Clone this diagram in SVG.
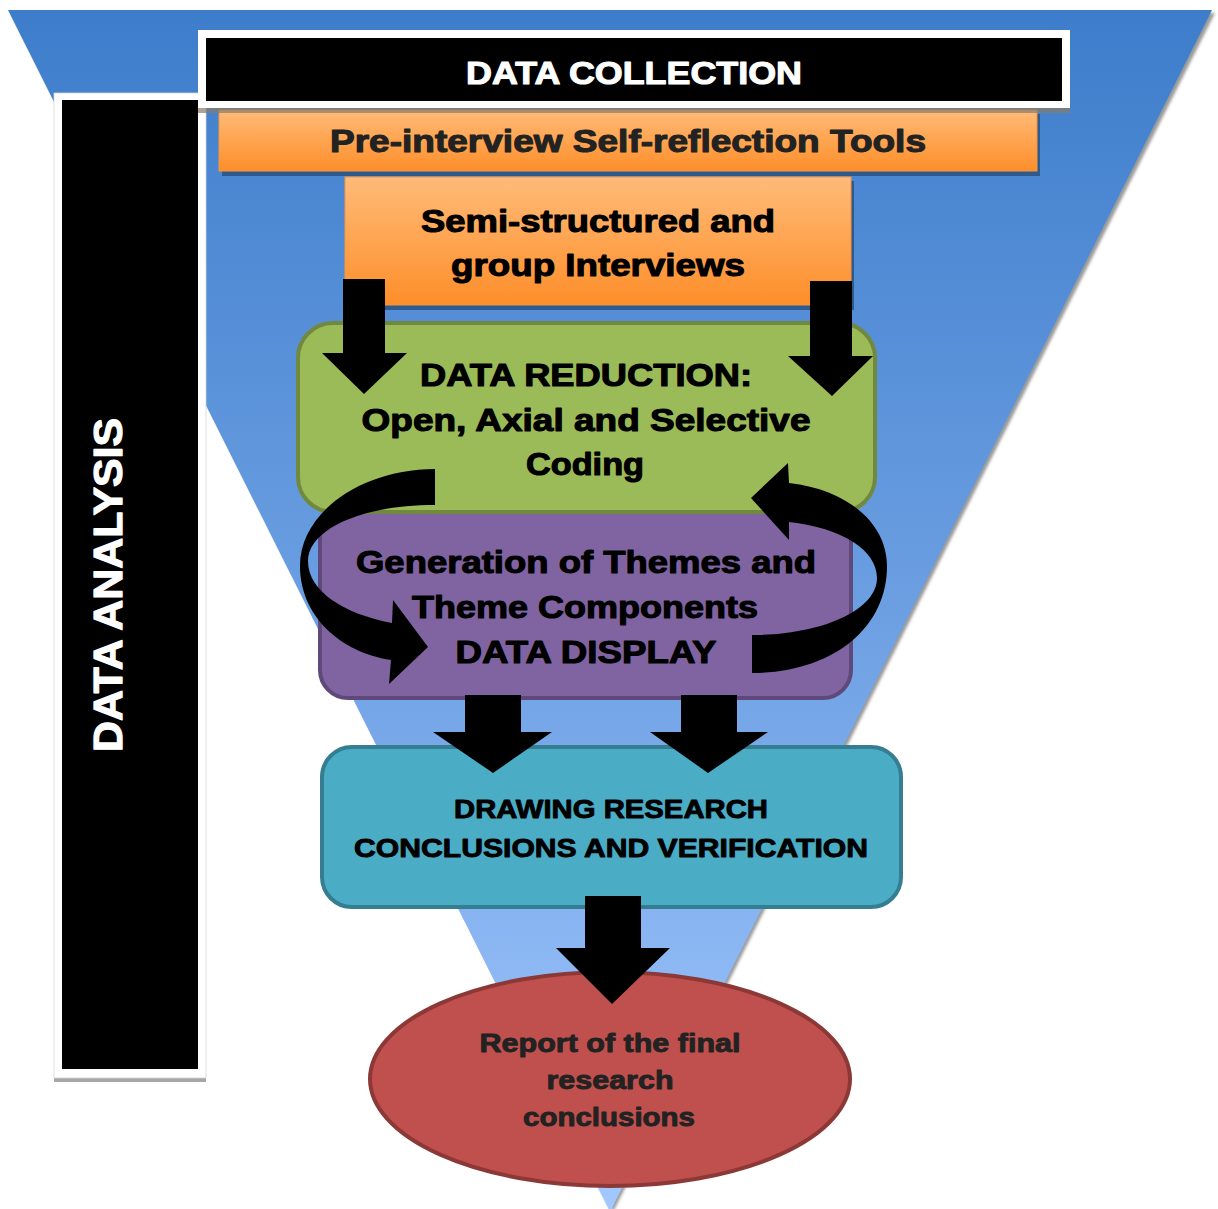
<svg xmlns="http://www.w3.org/2000/svg" width="1218" height="1209" viewBox="0 0 1218 1209">
  <defs>
    <linearGradient id="funnelFill" x1="0" y1="10" x2="0" y2="1209" gradientUnits="userSpaceOnUse">
      <stop offset="0" stop-color="#3d7dcb"/>
      <stop offset="0.5" stop-color="#6c9fe2"/>
      <stop offset="1" stop-color="#a2c8ff"/>
    </linearGradient>
    <linearGradient id="orangeFill" x1="0" y1="0" x2="0" y2="1">
      <stop offset="0" stop-color="#ffbb78"/>
      <stop offset="1" stop-color="#fd8e2a"/>
    </linearGradient>
    <filter id="soft" x="-5%" y="-5%" width="110%" height="110%">
      <feGaussianBlur stdDeviation="1.5"/>
    </filter>
    <style>
      text { font-family: "Liberation Sans", Arial, sans-serif; font-weight: bold; text-anchor: middle; stroke-linejoin: round; }
      .dark { fill: #222222; stroke: #222222; }
      .black { fill: #000000; stroke: #000000; }
      .white { fill: #ffffff; stroke: #ffffff; }
      .t32 { font-size: 32px; stroke-width: 1.1; }
      .t26 { font-size: 26px; stroke-width: 0.9; }
      .arrow { fill: #000000; }
    </style>
  </defs>

  <!-- funnel background -->
  <g id="funnel">
    <polygon points="11,13 1215,13 613,1212" fill="#9a9a9a" filter="url(#soft)"/>
    <polygon points="8,10 1212,10 610,1212" fill="url(#funnelFill)"/>
  </g>

  <!-- vertical side label -->
  <g id="data-analysis">
    <rect x="54" y="1077" width="152" height="5" fill="#a6a6a6"/>
    <rect x="54" y="93" width="152" height="985" fill="#ffffff" stroke="#d4d4d4" stroke-width="0.8"/>
    <rect x="62" y="100" width="136" height="969" fill="#000000"/>
    <text class="white" transform="translate(122,585) rotate(-90)" font-size="40" stroke-width="1.2" textLength="334" lengthAdjust="spacingAndGlyphs">DATA ANALYSIS</text>
  </g>

  <g id="pre-interview">
    <rect x="222" y="114" width="818" height="62" fill="#2f5a8c"/>
    <rect x="219" y="110" width="818" height="61" fill="url(#orangeFill)" stroke="#f7953f" stroke-width="1"/>
    <text class="dark t32" x="628" y="152" textLength="596" lengthAdjust="spacingAndGlyphs">Pre-interview Self-reflection Tools</text>
  </g>

  <g id="interviews">
    <rect x="348" y="181" width="506" height="129" fill="#2f5a8c"/>
    <rect x="345" y="177" width="506" height="128" fill="url(#orangeFill)" stroke="#f7953f" stroke-width="1"/>
    <text class="black t32" x="598" y="232" textLength="354" lengthAdjust="spacingAndGlyphs">Semi-structured and</text>
    <text class="black t32" x="598" y="276" textLength="294" lengthAdjust="spacingAndGlyphs">group Interviews</text>
  </g>

  <g id="data-collection">
    <rect x="198" y="108" width="872" height="5" fill="#8a7a6a" opacity="0.7"/>
    <rect x="198" y="30" width="872" height="78" fill="#ffffff"/>
    <rect x="206" y="38" width="856" height="63" fill="#000000"/>
    <text class="white t32" x="634" y="84" textLength="336" lengthAdjust="spacingAndGlyphs">DATA COLLECTION</text>
  </g>

  <g id="data-display">
    <rect x="320" y="506" width="531" height="192" rx="28" fill="#8064a2" stroke="#5f497a" stroke-width="4"/>
    <text class="black t32" x="586" y="573" textLength="460" lengthAdjust="spacingAndGlyphs">Generation of Themes and</text>
    <text class="black t32" x="585" y="618" textLength="346" lengthAdjust="spacingAndGlyphs">Theme Components</text>
    <text class="black t32" x="586" y="663" textLength="261" lengthAdjust="spacingAndGlyphs">DATA DISPLAY</text>
  </g>

  <g id="data-reduction">
    <rect x="298" y="323" width="577" height="189" rx="35" fill="#9bbb59" stroke="#71893f" stroke-width="4"/>
    <text class="black t32" x="586" y="386" textLength="332" lengthAdjust="spacingAndGlyphs">DATA REDUCTION:</text>
    <text class="black t32" x="586" y="431" textLength="449" lengthAdjust="spacingAndGlyphs">Open, Axial and Selective</text>
    <text class="black t32" x="585" y="475" textLength="118" lengthAdjust="spacingAndGlyphs">Coding</text>
  </g>

  <g id="conclusions">
    <rect x="322" y="747" width="579" height="160" rx="30" fill="#4bacc6" stroke="#357d91" stroke-width="4"/>
    <text class="black t26" x="611" y="818" textLength="314" lengthAdjust="spacingAndGlyphs">DRAWING RESEARCH</text>
    <text class="black t26" x="611" y="857" textLength="514" lengthAdjust="spacingAndGlyphs">CONCLUSIONS AND VERIFICATION</text>
  </g>

  <g id="report">
    <ellipse cx="610" cy="1079" rx="240" ry="107" fill="#c0504d" stroke="#8c3836" stroke-width="4"/>
    <text class="dark t26" x="610" y="1052" textLength="261" lengthAdjust="spacingAndGlyphs">Report of the final</text>
    <text class="dark t26" x="610" y="1089" textLength="127" lengthAdjust="spacingAndGlyphs">research</text>
    <text class="dark t26" x="609" y="1126" textLength="172" lengthAdjust="spacingAndGlyphs">conclusions</text>
  </g>

  <!-- block arrows and the two looping arrows -->
  <g id="connectors">
    <polygon class="arrow" points="343,279 385,279 385,353 407,353 364,394 322,353 343,353"/>
    <polygon class="arrow" points="810,281 852,281 852,356 873,356 832,396 788,356 810,356"/>
    <polygon class="arrow" points="465,695 521,695 521,732 552,732 493,773 433,732 465,732"/>
    <polygon class="arrow" points="681,695 737,695 737,732 768,732 708,773 650,732 681,732"/>
    <polygon class="arrow" points="585,896 641,896 641,948 670,948 612,1004 556,948 585,948"/>
    <!-- reduction to display loop -->
    <path class="arrow" d="M435,469 C362,469 300,512 300,566 C300,616 340,652 391,660 L389,684 L428,647 L393,600 L392,623 C345,614 308,592 308,561 C308,530 360,505 435,505 Z"/>
    <!-- display back to reduction loop -->
    <path class="arrow" d="M752,635 C822,635 877,610 877,578 C877,550 842,528 789,522 L789,540 L751,498 L788,463 L789,483 C850,490 887,525 887,566 C887,630 830,673 752,673 Z"/>
  </g>
</svg>
